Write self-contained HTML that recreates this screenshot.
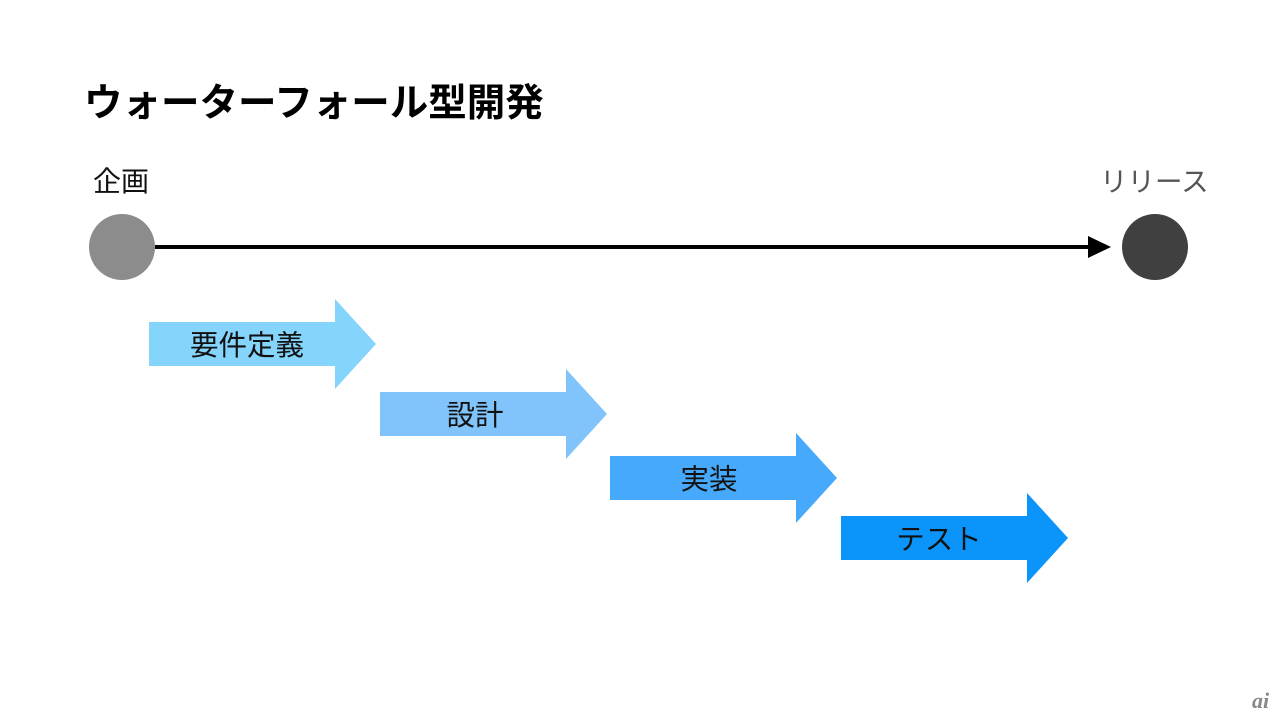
<!DOCTYPE html>
<html><head><meta charset="utf-8"><style>
body{margin:0;width:1280px;height:719px;background:#fff;overflow:hidden;font-family:"Liberation Sans","Noto Sans CJK JP",sans-serif}
svg{position:absolute;left:0;top:0}
</style></head><body>
<svg width="1280" height="719" viewBox="0 0 1280 719">
<text x="84" y="116" font-size="38.5" font-weight="bold" fill="#000" font-family="Liberation Sans, Noto Sans CJK JP, sans-serif">ウォーターフォール型開発</text>
<text x="93" y="191" font-size="28" fill="#111" font-family="Liberation Sans, Noto Sans CJK JP, sans-serif">企画</text>
<text x="1100" y="191" font-size="27.5" fill="#555" font-family="Liberation Sans, Noto Sans CJK JP, sans-serif">リリース</text>
<circle cx="122" cy="247" r="33" fill="#8c8c8c"/>
<circle cx="1155" cy="247" r="33" fill="#404040"/>
<line x1="155" y1="247" x2="1092" y2="247" stroke="#000" stroke-width="4"/>
<polygon points="1088,236 1111,247 1088,258" fill="#000"/>
<polygon points="149,322 335,322 335,299 376,344 335,389 335,366 149,366" fill="#85d4fb"/>
<polygon points="380,392 566,392 566,369 607,414 566,459 566,436 380,436" fill="#81c3fb"/>
<polygon points="610,456 796,456 796,433 837,478 796,523 796,500 610,500" fill="#47a9fb"/>
<polygon points="841,516 1027,516 1027,493 1068,538 1027,583 1027,560 841,560" fill="#0b94f9"/>
<g font-size="28.5" fill="#111" text-anchor="middle" font-family="Liberation Sans, Noto Sans CJK JP, sans-serif">
<text x="247" y="355">要件定義</text>
<text x="475" y="425">設計</text>
<text x="709" y="489">実装</text>
<text x="939" y="549">テスト</text>
</g>
<text x="1252" y="708" font-size="22" font-style="italic" font-weight="bold" fill="#888" font-family="Liberation Serif, serif">ai</text>
</svg>
</body></html>
